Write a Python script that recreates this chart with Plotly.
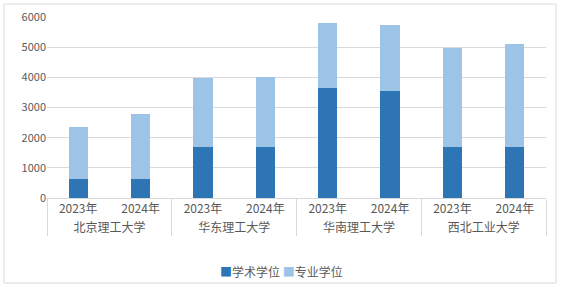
import plotly.graph_objects as go

universities = ["北京理工大学", "北京理工大学", "华东理工大学", "华东理工大学",
                "华南理工大学", "华南理工大学", "西北工业大学", "西北工业大学"]
years = ["2023年", "2024年"] * 4
academic = [640, 640, 1680, 1680, 3630, 3560, 1700, 1700]
total = [2370, 2770, 3990, 4020, 5810, 5740, 4980, 5110]
professional = [t - a for t, a in zip(total, academic)]
y_ticks = [0, 1000, 2000, 3000, 4000, 5000, 6000]
series_names = ["学术学位", "专业学位"]
series_colors = ["#2E75B6", "#9DC3E6"]

font_family = "Noto Sans CJK SC, Noto Sans, sans-serif"
grey = "#595959"

fig = go.Figure()
for name, vals, col in zip(series_names, [academic, professional], series_colors):
    fig.add_trace(go.Bar(x=[universities, years], y=vals, name=name,
                         marker=dict(color=col, line=dict(width=0)),
                         showlegend=False))

W, H = 561, 287
ml, mr, mt, mb = 47, 15, 17, 89
pw, ph = W - ml - mr, H - mt - mb

legend_text = " ".join(
    f"<span style='color:{c}'>■</span>{n}" for n, c in zip(series_names, series_colors)
)

fig.update_layout(
    width=W, height=H,
    barmode="stack", bargap=0.69,
    margin=dict(l=ml, r=mr, t=mt, b=mb),
    paper_bgcolor="white", plot_bgcolor="white",
    font=dict(family=font_family, color=grey, size=12),
    showlegend=False,
    xaxis=dict(type="multicategory", showline=True, linecolor="#d9d9d9",
               showdividers=True, dividercolor="#d9d9d9", dividerwidth=1,
               tickfont=dict(size=12, color=grey), ticks="", automargin=False),
    yaxis=dict(range=[0, 6000], tickvals=y_ticks, showgrid=True,
               gridcolor="#d9d9d9", gridwidth=1, zeroline=False, showline=False,
               tickfont=dict(size=11, color=grey), ticks="", automargin=False),
    annotations=[dict(text=legend_text, xref="paper", yref="paper",
                      x=(281 - ml) / pw, y=(H - mb - 271) / ph,
                      xanchor="center", yanchor="middle", showarrow=False,
                      font=dict(size=12, color=grey))],
    shapes=[dict(type="rect", xref="paper", yref="paper",
                 x0=(4 - ml) / pw, x1=(556 - ml) / pw,
                 y0=(H - mb - 283) / ph, y1=(H - mb - 4) / ph,
                 line=dict(color="#d9d9d9", width=1), layer="below")],
)

fig.write_html("out.html")
